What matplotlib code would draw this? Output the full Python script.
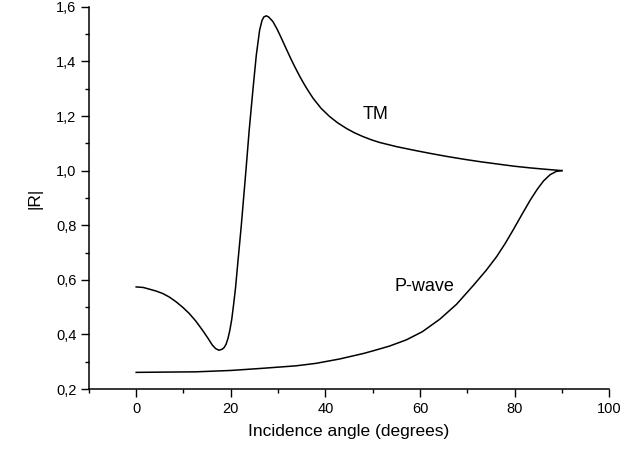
import matplotlib
matplotlib.use("Agg")
import matplotlib.pyplot as plt
from matplotlib.ticker import MultipleLocator, FuncFormatter

# TM curve
tm_x = [0, 1.5, 2.75, 4.2, 5.6, 7.0, 8.4, 9.8, 11.2, 12.6, 14.0, 15.1, 16.1, 16.8, 17.5,
        18.2, 18.6, 19.0, 19.4, 19.8, 20.2, 20.6, 21.0, 21.5, 22.2, 23.2, 23.9, 24.7,
        25.4, 26.1, 26.6, 27.0, 27.5, 28.0, 28.9, 29.8, 30.7, 31.7, 32.8, 33.6, 34.5,
        35.3, 36.2, 37.4, 39.1, 40.9, 42.6, 44.4, 46.1, 47.9, 49.7, 51.5, 55.0, 59.2,
        62.8, 66.0, 69.9, 73.0, 76.9, 80.0, 83.3, 86.5, 90]
tm_y = [0.574, 0.572, 0.566, 0.559, 0.550, 0.537, 0.520, 0.500, 0.477, 0.449, 0.416,
        0.388, 0.361, 0.348, 0.342, 0.346, 0.352, 0.364, 0.385, 0.415, 0.455, 0.510,
        0.570, 0.665, 0.795, 1.000, 1.150, 1.300, 1.424, 1.515, 1.550, 1.563, 1.567,
        1.563, 1.546, 1.518, 1.485, 1.447, 1.406, 1.378, 1.348, 1.323, 1.297, 1.265,
        1.228, 1.198, 1.175, 1.155, 1.139, 1.125, 1.113, 1.103, 1.088, 1.073, 1.061,
        1.051, 1.040, 1.032, 1.023, 1.016, 1.010, 1.005, 1.000]

# P-wave curve
pw_x = [0, 6.0, 12.6, 20.0, 26.8, 33.8, 38.0, 43.0, 48.0, 50.1, 53.5, 57.1, 60.5, 64.2,
        67.7, 71.3, 74.0, 76.2, 78.0, 79.7, 81.5, 83.3, 84.8, 86.1, 87.5, 88.8, 90]
pw_y = [0.261, 0.262, 0.263, 0.268, 0.276, 0.285, 0.294, 0.310, 0.330, 0.340, 0.357,
        0.380, 0.410, 0.456, 0.510, 0.580, 0.635, 0.685, 0.733, 0.783, 0.838, 0.892,
        0.932, 0.962, 0.985, 0.997, 1.000]

plt.rcParams['font.family'] = ['Liberation Sans', 'DejaVu Sans']

fig = plt.figure(figsize=(6.44, 4.55), dpi=100)
ax = fig.add_axes([0.138, 0.145, 0.808, 0.840])

ax.plot(tm_x, tm_y, color='black', lw=1.1, solid_joinstyle='round')
ax.plot(pw_x, pw_y, color='black', lw=1.1, solid_joinstyle='round')

ax.text(50.7, 1.207, 'TM', fontsize=13, ha='center', va='center')
ax.text(61, 0.575, 'P-wave', fontsize=13, ha='center', va='center')

ax.set_xlim(-10, 100)
ax.set_ylim(0.2, 1.6)
ax.xaxis.set_major_locator(MultipleLocator(20))
ax.xaxis.set_minor_locator(MultipleLocator(10))
ax.yaxis.set_major_locator(MultipleLocator(0.2))
ax.yaxis.set_minor_locator(MultipleLocator(0.1))
ax.yaxis.set_major_formatter(FuncFormatter(lambda v, p: f"{v:.1f}".replace('.', ',')))
ax.xaxis.set_major_formatter(FuncFormatter(lambda v, p: f"{v:.0f}"))

for s in ['top', 'right']:
    ax.spines[s].set_visible(False)
for s in ['left', 'bottom']:
    ax.spines[s].set_linewidth(1.1)

ax.tick_params(which='major', direction='out', length=5.5, width=1.0, labelsize=10.5)
ax.tick_params(which='minor', direction='out', length=3, width=1.0)

ax.set_xlabel('Incidence angle (degrees)', fontsize=12.5, labelpad=6)
ax.set_ylabel('|R|', fontsize=12.5, labelpad=10)

fig.savefig('out.png', dpi=100)
